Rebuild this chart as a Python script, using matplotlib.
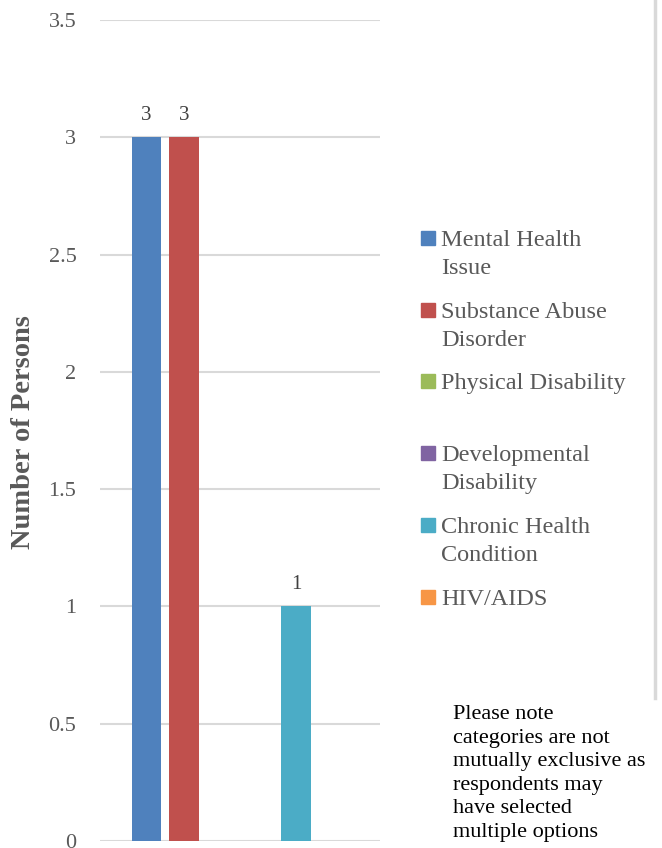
import matplotlib.pyplot as plt
from matplotlib.lines import Line2D
from matplotlib.patches import Rectangle

# Chart data
series = ['Mental Health\nIssue', 'Substance Abuse\nDisorder', 'Physical Disability',
          'Developmental\nDisability', 'Chronic Health\nCondition', 'HIV/AIDS']
values = [3, 3, 0, 0, 1, 0]
colors = ['#4f81bd', '#c0504d', '#9bbb59', '#8064a2', '#4bacc6', '#f79646']
y_ticks = [0, 0.5, 1, 1.5, 2, 2.5, 3, 3.5]
y_tick_labels = ['0', '0.5', '1', '1.5', '2', '2.5', '3', '3.5']
note = ['Please note', 'categories are not', 'mutually exclusive as',
        'respondents may', 'have selected', 'multiple options']

grey = '#595959'
serif = 'Liberation Serif'
W, H = 662, 848

fig = plt.figure(figsize=(W / 100, H / 100), dpi=100)
ax = fig.add_axes([100 / W, 1 - 841 / H, 280 / W, 821 / H])

for i, (v, c) in enumerate(zip(values, colors)):
    bars = ax.bar(i, v, width=0.78, color=c, zorder=3)
    if v:
        ax.bar_label(bars, labels=[f'{v:g}'], padding=9, color='#404040',
                     fontsize=15, fontfamily=serif)

ax.set_xlim(-1.25, 6.25)
ax.set_ylim(0, 3.5)
ax.set_yticks(y_ticks)
ax.set_yticklabels(y_tick_labels, fontsize=16, fontfamily=serif, color=grey)
ax.tick_params(axis='y', length=0, pad=17)
ax.set_xticks([])
ax.grid(axis='y', color='#d9d9d9', linewidth=1.5, zorder=0)
for s in ax.spines.values():
    s.set_visible(False)

fig.text(24 / W, 1 - 432 / H, 'Number of Persons', rotation=90,
         ha='center', va='center', fontsize=20.5, fontweight='bold',
         fontfamily=serif, color=grey)

# legend entries placed by hand along the right side (first-line centres)
leg_y = [238, 310, 381, 453, 525, 597]
for lab, c, y in zip(series, colors, leg_y):
    fig.patches.append(Rectangle((421 / W, 1 - (y + 7) / H), 14 / W, 14 / H,
                                 transform=fig.transFigure, color=c))
    for k, line in enumerate(lab.split('\n')):
        fig.text(441 / W, 1 - (y + 8 + 28 * k) / H, line, ha='left', va='baseline',
                 fontsize=17.5, fontfamily=serif, color=grey)

for k, line in enumerate(note):
    fig.text(453 / W, 1 - (719 + 23.6 * k) / H, line, ha='left', va='baseline',
             fontsize=16, fontfamily=serif, color='black')

fig.add_artist(Line2D([655 / W, 655 / W], [1, 1 - 698 / H],
                      color='#d9d9d9', linewidth=2.5, transform=fig.transFigure))

fig.savefig('out.png', dpi=100)
